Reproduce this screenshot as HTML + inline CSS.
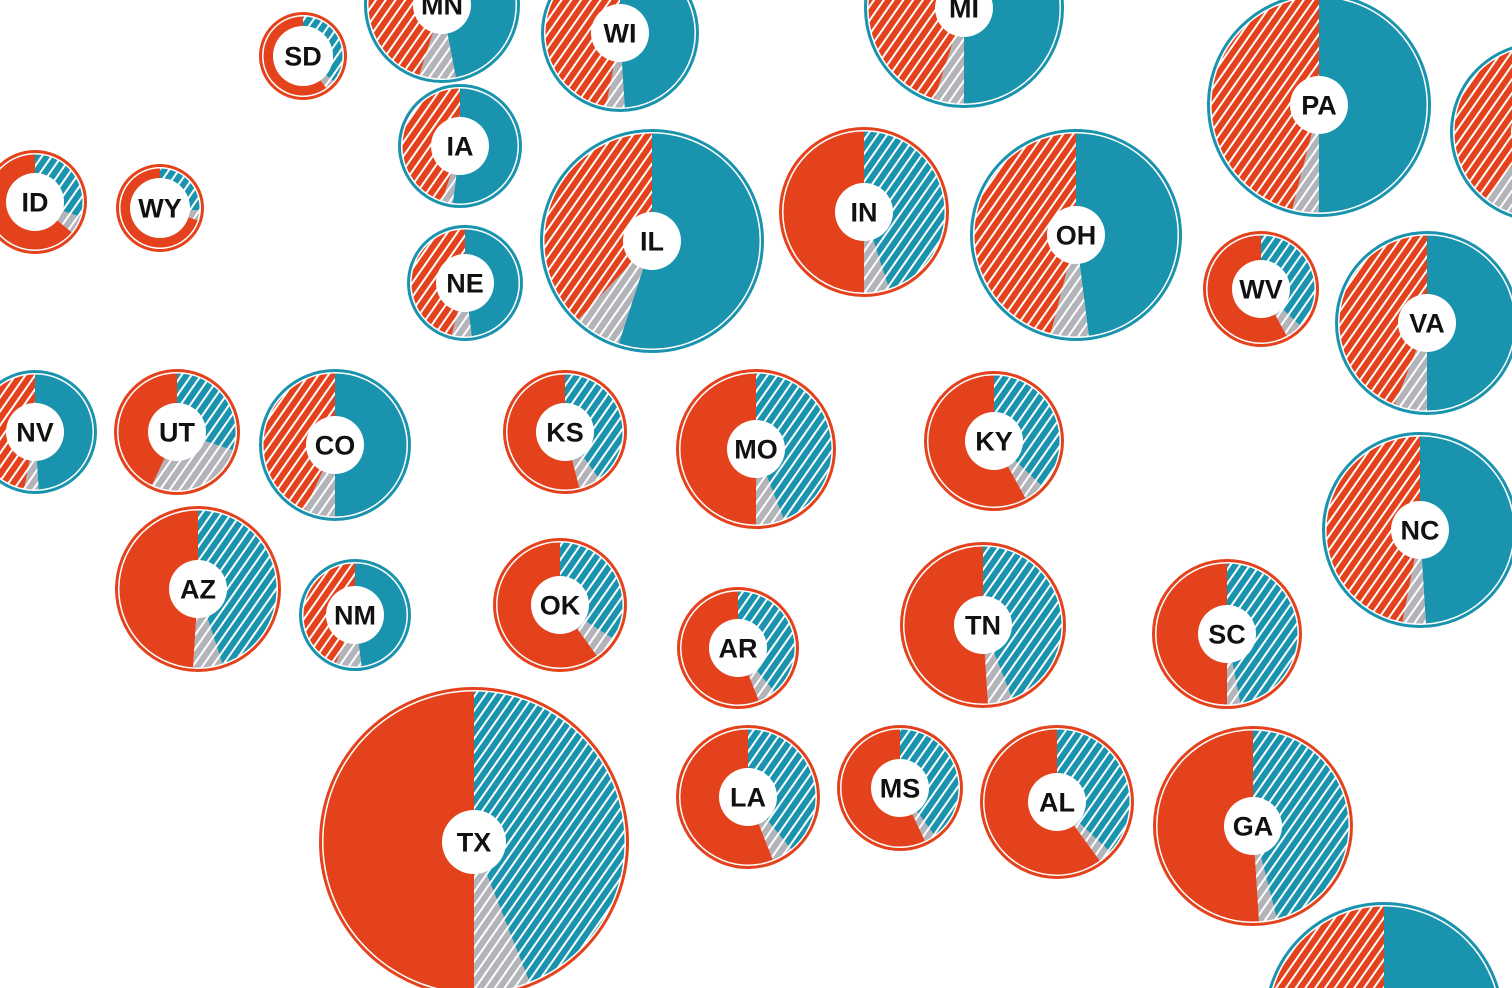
<!DOCTYPE html>
<html><head><meta charset="utf-8">
<style>
html,body{margin:0;padding:0;background:#fff;width:1512px;height:988px;overflow:hidden;}
svg{display:block;overflow:hidden;}
svg text{font-family:"Liberation Sans",sans-serif;font-weight:bold;}
</style></head>
<body>
<svg id="chart" width="1512" height="988" viewBox="0 0 1512 988" xmlns="http://www.w3.org/2000/svg">
<defs>
<pattern id="hatch-red" patternUnits="userSpaceOnUse" width="8" height="10" patternTransform="rotate(35)"><rect width="8" height="10" fill="#e4421c"/><line x1="4" y1="0" x2="4" y2="10" stroke="#fff" stroke-width="2"/></pattern>
<pattern id="hatch-blue" patternUnits="userSpaceOnUse" width="8" height="10" patternTransform="rotate(35)"><rect width="8" height="10" fill="#1a94ae"/><line x1="4" y1="0" x2="4" y2="10" stroke="#fff" stroke-width="2"/></pattern>
<pattern id="hatch-gray" patternUnits="userSpaceOnUse" width="8" height="10" patternTransform="rotate(35)"><rect width="8" height="10" fill="#b3b3ba"/><line x1="4" y1="0" x2="4" y2="10" stroke="#fff" stroke-width="2"/></pattern>
</defs>
</svg>
<script>
const states = ["SD","MN","WI","MI","PA","NY","IA","ID","WY","IL","IN","OH","NE","WV","VA","NV","UT","CO","KS","MO","KY","NC","AZ","NM","OK","AR","TN","SC","TX","LA","MS","AL","GA","MD"];
const blueShare = [0.36,0.47,0.49,0.50,0.50,0.55,0.52,0.30,0.26,0.55,0.45,0.48,0.48,0.37,0.50,0.49,0.30,0.50,0.40,0.44,0.37,0.49,0.45,0.48,0.34,0.39,0.44,0.47,0.44,0.39,0.40,0.37,0.46,0.60];
const grayShare = [0.04,0.08,0.04,0.05,0.04,0.06,0.03,0.06,0.04,0.07,0.05,0.06,0.06,0.05,0.06,0.04,0.27,0.07,0.06,0.06,0.05,0.04,0.06,0.08,0.06,0.05,0.05,0.03,0.06,0.05,0.03,0.03,0.03,0.06];
const centerX = [303,442,620,964,1319,1540,460,35,160,652,864,1076,465,1261,1427,35,177,335,565,756,994,1420,198,355,560,738,983,1227,474,748,900,1057,1253,1384];
const centerY = [56,5,33,8,105,132,146,202,208,241,212,235,283,289,323,432,432,445,432,449,441,530,589,615,605,648,625,634,842,797,788,802,826,1022];
const radius = [44,78,79,100,112,90,62,52,44,112,85,106,58,58,92,62,63,76,62,80,70,98,83,56,67,61,83,75,155,72,63,77,100,120];

const svg = document.getElementById('chart');
const NS = "http://www.w3.org/2000/svg";
function pt(cx,cy,r,f){const a=f*2*Math.PI;return [cx+r*Math.sin(a),cy-r*Math.cos(a)];}
function wedge(cx,cy,r,f0,f1){
  if(f1-f0<=0) return "";
  const p0=pt(cx,cy,r,f0),p1=pt(cx,cy,r,f1);
  const large=(f1-f0)>0.5?1:0;
  return `M${cx},${cy}L${p0[0]},${p0[1]}A${r},${r} 0 ${large} 1 ${p1[0]},${p1[1]}Z`;
}
states.forEach((s,i)=>{
  const b=blueShare[i], g=grayShare[i], red=1-b-g;
  const blueWins=b>red;
  const cx=centerX[i], cy=centerY[i], R=radius[i];
  const grp=document.createElementNS(NS,'g');
  
  
  const col=blueWins?"#1a94ae":"#e4421c";
  const ring=document.createElementNS(NS,'circle');
  ring.setAttribute('cx',cx);ring.setAttribute('cy',cy);ring.setAttribute('r',R-1.5);
  ring.setAttribute('fill','#fff');ring.setAttribute('stroke',col);ring.setAttribute('stroke-width','3');
  
  
  grp.appendChild(ring);
  const pr=R-4.5;
  const parts=[
    ['blue-slice',0,b,blueWins?"#1a94ae":"url(#hatch-blue)"],
    ['other-slice',b,b+g,"url(#hatch-gray)"],
    ['red-slice',b+g,1,blueWins?"url(#hatch-red)":"#e4421c"]
  ];
  parts.forEach(p=>{
    const path=document.createElementNS(NS,'path');
    path.setAttribute('d',wedge(cx,cy,pr,p[1],p[2]));
    path.setAttribute('fill',p[3]);
    
    
    grp.appendChild(path);
  });
  const inner=document.createElementNS(NS,'circle');
  inner.setAttribute('cx',cx);inner.setAttribute('cy',cy);inner.setAttribute('r',R>140?32:(R<50?30:29));
  inner.setAttribute('fill','#fff');
  
  
  grp.appendChild(inner);
  const t=document.createElementNS(NS,'text');
  t.setAttribute('x',cx);t.setAttribute('y',cy+9.5);
  t.setAttribute('text-anchor','middle');t.setAttribute('font-size','27');t.setAttribute('fill','#111');
  t.textContent=s;
  
  
  grp.appendChild(t);
  svg.appendChild(grp);
});
</script>
</body></html>
